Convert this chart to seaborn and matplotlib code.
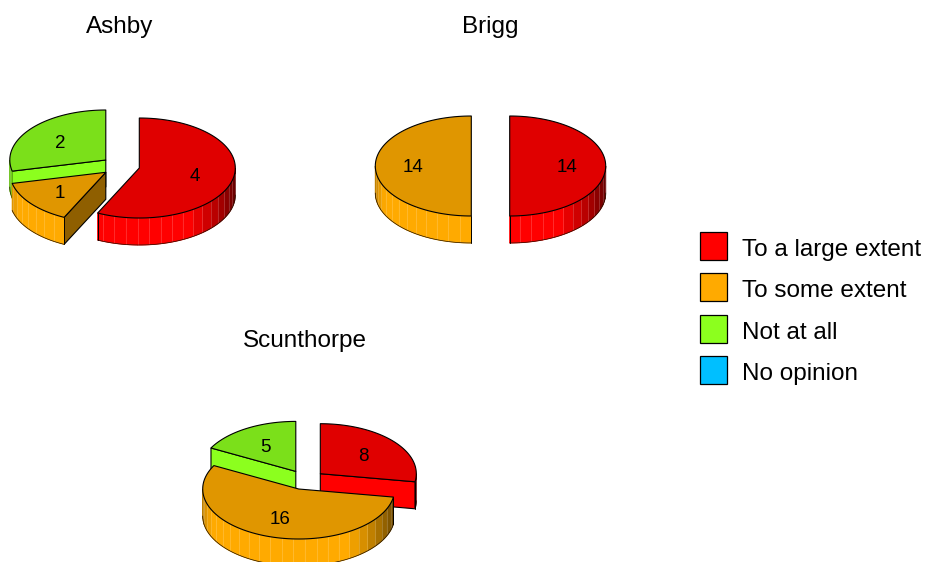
import numpy as np
import matplotlib
matplotlib.use("Agg")
import matplotlib.pyplot as plt
from matplotlib.patches import Polygon, Patch
import seaborn as sns

# Survey responses per town
responses = ["To a large extent", "To some extent", "Not at all", "No opinion"]
towns = ["Ashby", "Brigg", "Scunthorpe"]
ashby_counts = [4, 1, 2, 0]
brigg_counts = [14, 14, 0, 0]
scunthorpe_counts = [8, 16, 5, 0]
response_colors = ["#FF0000", "#FFAA00", "#8CFF1E", "#00BFFF"]

# Layout in pixel units: title position and the exploded centre of each slice
title_xy = {"Ashby": (120, 26.5), "Brigg": (490, 26.5), "Scunthorpe": (305, 340.5)}
slice_centres = {
    "Ashby": [(139.3, 168), (105.8, 172.3), (105.8, 160), None],
    "Brigg": [(509.7, 166), (471.3, 166), None, None],
    "Scunthorpe": [(320.3, 473.7), (298.7, 489), (295.8, 471.4), None],
}
RX, RY, DEPTH = 96, 50, 27
FACET_DEG = 7

sns.set_theme(style="white")
plt.rcParams["font.family"] = ["Liberation Sans", "DejaVu Sans"]
palette = sns.color_palette(response_colors)

fig = plt.figure(figsize=(9.25, 5.62), dpi=100)
ax = fig.add_axes([0, 0, 1, 1])
ax.set_xlim(0, 925)
ax.set_ylim(562, 0)
ax.axis("off")


def rim(centre, deg):
    # Point on the ellipse, angle measured clockwise from twelve o'clock
    rad = np.radians(deg)
    return centre[0] + RX * np.sin(rad), centre[1] - RY * np.cos(rad)


def shade(color, deg):
    # Side walls brighten towards the front and fall off to the right
    level = np.interp(deg % 360, [0, 90, 115, 150, 245, 270, 360],
                      [0.3, 0.33, 0.55, 1.0, 1.0, 0.72, 0.72])
    return tuple(c * level for c in color)


def draw_slice(centre, start, end, color, zorder):
    cx, cy = centre
    top_color = tuple(c * 0.88 for c in color)

    # Flat cut faces that look towards the viewer
    for angle, normal in ((start, start - 90), (end, end + 90)):
        if np.cos(np.radians(normal)) < -1e-6:
            px, py = rim(centre, angle)
            face = [(cx, cy), (px, py), (px, py + DEPTH), (cx, cy + DEPTH)]
            ax.add_patch(Polygon(face, closed=True, facecolor=shade(color, normal),
                                 edgecolor="black", linewidth=0.8, zorder=zorder))

    # Curved outer wall, built from narrow facets on the front half
    low, high = max(start, 90), min(end, 270)
    if high > low:
        edges = np.append(np.arange(low, high, FACET_DEG), high)
        for a, b in zip(edges[:-1], edges[1:]):
            arc = [rim(centre, d) for d in np.linspace(a, b, 4)]
            facet = arc + [(x, y + DEPTH) for x, y in arc[::-1]]
            tone = shade(color, (a + b) / 2)
            ax.add_patch(Polygon(facet, closed=True, facecolor=tone, edgecolor=tone,
                                 linewidth=0.7, zorder=zorder))
        for a in edges[1:-1]:
            x0, y0 = rim(centre, a)
            ax.plot([x0, x0], [y0, y0 + DEPTH], color="white", alpha=0.2,
                    linewidth=0.6, zorder=zorder)
        sweep = np.linspace(low, high, 60)
        lower = [rim(centre, d) for d in sweep]
        xs = [p[0] for p in lower]
        ys = [p[1] + DEPTH for p in lower]
        ax.plot(xs, ys, color="#201000", linewidth=0.5, zorder=zorder)
        for d in (low, high):
            x0, y0 = rim(centre, d)
            if d in (start, end) and d < 250:
                ax.plot([x0, x0], [y0, y0 + DEPTH], color="black", linewidth=0.7,
                        zorder=zorder)

    # Top surface
    outline = [(cx, cy)] + [rim(centre, d) for d in np.linspace(start, end, 90)]
    ax.add_patch(Polygon(outline, closed=True, facecolor=top_color, edgecolor="black",
                         linewidth=0.8, joinstyle="round", zorder=zorder))


def draw_pie(town, counts):
    total = sum(counts)
    bounds = np.cumsum([0] + list(counts)) / total * 360
    centres = slice_centres[town]
    order = sorted((i for i, v in enumerate(counts) if v > 0),
                   key=lambda i: centres[i][1])
    for z, i in enumerate(order):
        draw_slice(centres[i], bounds[i], bounds[i + 1], palette[i], 2 + z)
    for i in order:
        mid = np.radians((bounds[i] + bounds[i + 1]) / 2)
        lx = centres[i][0] + 0.6 * RX * np.sin(mid)
        ly = centres[i][1] - 0.6 * RY * np.cos(mid)
        ax.text(lx - 0.5, ly + 2, str(counts[i]), ha="center", va="center",
                fontsize=13.5, color="black", zorder=20)
    tx, ty = title_xy[town]
    ax.text(tx, ty, town, ha="center", va="center", fontsize=17.5, color="black")


for town, counts in zip(towns, [ashby_counts, brigg_counts, scunthorpe_counts]):
    draw_pie(town, counts)

handles = [Patch(facecolor=c, edgecolor="black", linewidth=0.9) for c in palette]
legend = ax.legend(handles, responses, loc="upper left", bbox_to_anchor=(699.5, 232),
                   bbox_transform=ax.transData, frameon=False, fontsize=17.5, borderpad=0,
                   borderaxespad=0, handlelength=1.14, handleheight=1.395, handletextpad=0.6,
                   labelspacing=0.555, labelcolor="black")
for label in legend.get_texts():
    label.set_position((0, -1.5))

fig.savefig("out.png", dpi=100, facecolor="white")
